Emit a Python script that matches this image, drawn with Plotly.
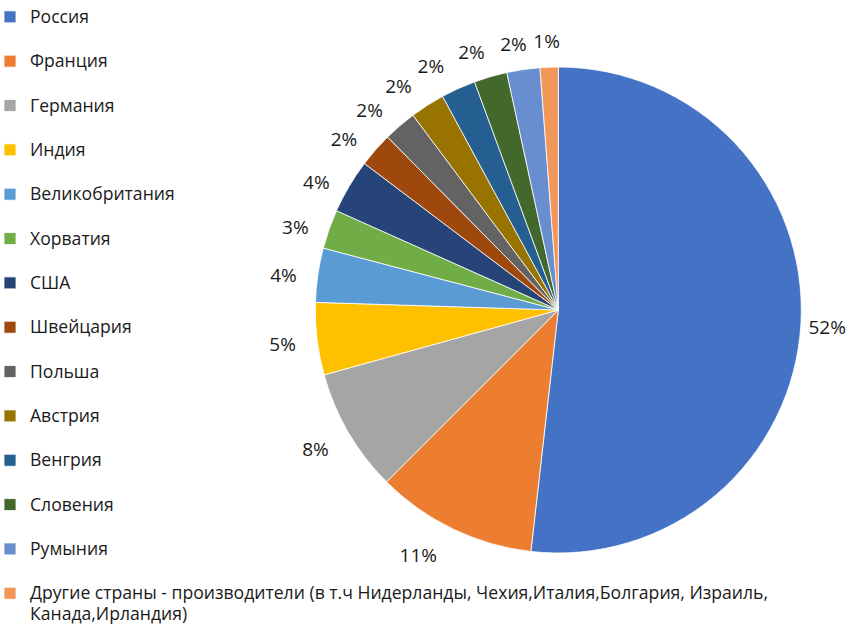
import math
import plotly.graph_objects as go

countries = ["Россия", "Франция", "Германия", "Индия", "Великобритания", "Хорватия",
             "США", "Швейцария", "Польша", "Австрия", "Венгрия", "Словения", "Румыния",
             "Другие страны - производители (в т.ч Нидерланды, Чехия,Италия,Болгария, Израиль,<br>Канада,Ирландия)"]
shares = [51.8, 10.7, 8.2, 4.8, 3.6, 2.6, 3.6, 2.3, 2.2, 2.3, 2.3, 2.2, 2.2, 1.2]
colors = ["#4472C4", "#ED7D31", "#A5A5A5", "#FFC000", "#5B9BD5", "#70AD47",
          "#264478", "#9E480E", "#636363", "#997300", "#255E91", "#43682B",
          "#698ED0", "#F1975A"]

FONT = "Open Sans"
W, H = 859, 632
CX, CY, R = 558.3, 310.0, 243.0   # pie centre / radius in px
K = 1.23                           # label layer radial extent (in pie radii)


def legend_label(name):
    sp = '<span style="font-size:17.6px">'
    txt = sp + name.replace("<br>", '</span><br>' + sp) + '</span>'
    if "<br>" not in name:
        txt += "<br>\u00a0"
    return txt


labels = [legend_label(c) for c in countries]


def clip(v, lo, hi):
    return max(lo, min(hi, v))


# percent labels placed "outside end" (Excel-like box placement)
total = sum(shares)
pct_text = [f"{round(v / total * 100):.0f}%" for v in shares]
lab_r, lab_t = [], []
cum = 0.0
for v, t in zip(shares, pct_text):
    mid = (cum + v / 2) / total * 2 * math.pi
    cum += v
    s, c = math.sin(mid), math.cos(mid)
    w = 13.5 * len(t)          # approx text width, px
    g, pad = 12, 9
    sx = clip(s * 2.5, -1, 1)
    ox = sx * w / 2 + min(sx, 0) * pad - max(sx, 0) * 6
    if c >= 0:
        oy = -4 + 16 * clip((c - 0.5) * 2, 0, 1)
    else:
        oy = -4 - 14 * clip(-c * 1.2, 0, 1)
    x = (R + g) * s + ox
    y = (R + g) * c + oy
    lab_r.append(math.hypot(x, y) / R)
    lab_t.append(math.degrees(math.atan2(x, y)) % 360)


def dom(cx, cy, half):
    return dict(x=[(cx - half) / W, (cx + half) / W],
                y=[1 - (cy + half) / H, 1 - (cy - half) / H])


fig = go.Figure()
fig.add_trace(go.Pie(
    labels=labels,
    values=shares,
    sort=False,
    direction="clockwise",
    rotation=0,
    marker=dict(colors=colors, line=dict(color="white", width=0.8)),
    textinfo="none",
    domain=dom(CX, CY, R),
    showlegend=True,
    hoverinfo="percent+value",
))
fig.add_trace(go.Scatterpolar(
    r=lab_r, theta=lab_t, mode="text", text=pct_text,
    textposition="middle center",
    textfont=dict(family=FONT, size=19, color="#1a1a1a"),
    cliponaxis=False, showlegend=False, hoverinfo="skip",
))

fig.update_layout(
    width=W, height=H,
    margin=dict(l=0, r=0, t=0, b=0, autoexpand=False),
    paper_bgcolor="white",
    plot_bgcolor="white",
    font=dict(family=FONT, color="#1a1a1a"),
    polar=dict(
        domain=dom(CX, CY, R * K),
        bgcolor="rgba(0,0,0,0)",
        radialaxis=dict(range=[0, K], visible=False),
        angularaxis=dict(rotation=90, direction="clockwise", visible=False),
    ),
    legend=dict(
        x=-10 / W, y=1, xanchor="left", yanchor="top",
        font=dict(family=FONT, size=15.9, color="#1a1a1a"),
        valign="top",
        itemwidth=30,
        bgcolor="rgba(0,0,0,0)",
    ),
)

fig.write_html("out.html", config={"displayModeBar": False},
               post_script="document.body.style.margin='0px';")
